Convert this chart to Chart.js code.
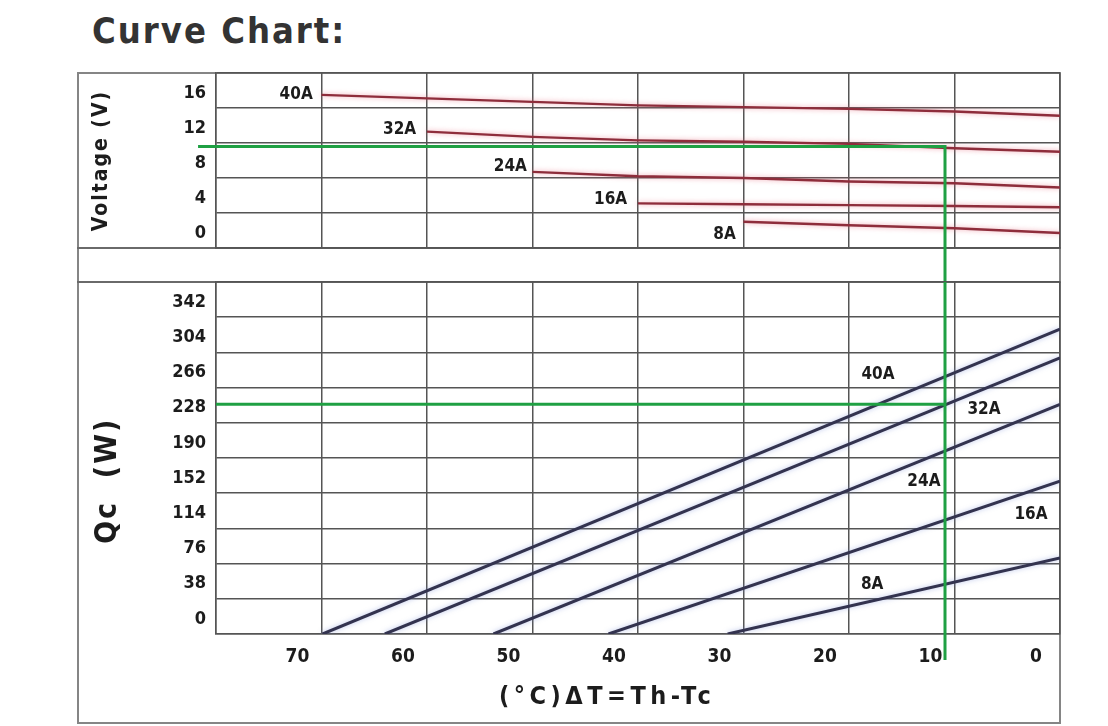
<!DOCTYPE html>
<html>
<head>
<meta charset="utf-8">
<script src="https://cdn.jsdelivr.net/npm/chart.js@4.4.1/dist/chart.umd.min.js"></script>
<style>
  html, body { margin: 0; padding: 0; background: #ffffff; }
  #wrap { position: relative; width: 1108px; height: 726px; overflow: hidden; background: #ffffff; }
  #title { position: absolute; left: 92px; top: 11px; font: bold 36px 'DejaVu Sans Condensed', 'DejaVu Sans', sans-serif;
           letter-spacing: 2px; color: #333333; line-height: 40px; white-space: nowrap; }
  #frame { position: absolute; left: 77px; top: 72px; width: 980px; height: 648px; border: 2px solid #858585; }
  #gap { position: absolute; left: 77px; top: 247px; width: 984px; height: 32px; border-top: 2px solid #6a6a6a; border-bottom: 2px solid #6a6a6a; }
  canvas { position: absolute; left: 0; top: 0; }
</style>
</head>
<body>
<div id="wrap">
  <div id="title">Curve Chart:</div>
  <div id="frame"></div>
  <div id="gap"></div>
  <canvas id="topChart" width="1108" height="726"></canvas>
  <canvas id="botChart" width="1108" height="726"></canvas>
</div>
<script>
// ---------------- data ----------------
const currents = ['40A', '32A', '24A', '16A', '8A'];

// Voltage (V) against ΔT (°C)
const voltDT40 = [70, 60, 50, 40, 30, 20, 10, 0];
const volt40   = [17.5, 17.1, 16.7, 16.3, 16.1, 15.9, 15.6, 15.1];
const voltDT32 = [60, 50, 40, 30, 20, 10, 0];
const volt32   = [13.3, 12.7, 12.3, 12.15, 11.9, 11.4, 11.0];
const voltDT24 = [50, 40, 30, 20, 10, 0];
const volt24   = [8.7, 8.2, 8.0, 7.6, 7.4, 6.9];
const voltDT16 = [40, 30, 20, 10, 0];
const volt16   = [5.1, 5.0, 4.9, 4.8, 4.65];
const voltDT8  = [30, 20, 10, 0];
const volt8    = [3.0, 2.6, 2.25, 1.7];

// Qc (W): each straight line runs from (start ΔT, 0 W) to (ΔT 0, value)
const qcStartDT = [69.9, 64.0, 53.7, 42.8, 31.5];
const qcAtZero  = [329, 298, 248, 165, 82];

// axis ranges / ticks
const dtAxis    = { min: 0, max: 80, step: 10 };
const voltAxis  = { min: 0, max: 20, step: 4 };
const qcAxis    = { min: 0, max: 380, step: 38 };

// green reading guide (operating point)
const guideDT = 10.9, guideV = 11.6, guideQc = 248;
const guideTopStartDT = 81.7, guideTopEndV = -3.9, guideBotEndQc = -28;

// curve label anchors (data units)
const voltLabelDT = [72.4, 62.6, 52.1, 42.6, 31.8];
const voltLabelV  = [17.49, 13.49, 9.26, 5.49, 1.49];
const qcLabelDT   = [17.25, 7.2, 12.9, 2.75, 17.8];
const qcLabelQc   = [280, 242, 165, 129, 53];

// ---------------- styling ----------------
const W = 1108, H = 726;
const FRAME_L = 78, FRAME_R = 1060, PLOT_L = 216;
const TOP_T = 73, TOP_B = 248, BOT_T = 282, BOT_B = 634, FRAME_B = 723;
const GRID = '#555555';
const GREEN = '#1fa043';
const RED = '#8e2d3b';
const NAVY = '#33334f';
const TEXT = '#1c1c1c';
const COND = "'DejaVu Sans Condensed', 'DejaVu Sans', sans-serif";

Chart.defaults.font.family = COND;
Chart.defaults.color = TEXT;

const glow = {
  id: 'glow',
  beforeDatasetDraw(chart, args) {
    const g = chart.data.datasets[args.index].glowColor;
    if (g) { const c = chart.ctx; c.save(); c.shadowColor = g; c.shadowBlur = 5; }
  },
  afterDatasetDraw(chart, args) {
    if (chart.data.datasets[args.index].glowColor) chart.ctx.restore();
  }
};

function spacedTitles(spacing) {
  return {
    id: 'spacedTitles',
    beforeDraw(chart) {
      Object.keys(spacing).forEach(id => {
        const s = chart.scales[id];
        if (!s || s._spacedPatched) return;
        const orig = s.drawTitle;
        s.drawTitle = function () {
          const c = this.ctx; c.save(); c.letterSpacing = spacing[id] + 'px'; orig.call(this); c.restore();
        };
        s._spacedPatched = true;
      });
    }
  };
}

function curveLabels(dts, vals) {
  return {
    id: 'curveLabels',
    afterDatasetsDraw(chart) {
      const { ctx, scales } = chart;
      ctx.save();
      ctx.font = 'bold 17px ' + COND;
      ctx.fillStyle = TEXT;
      ctx.textAlign = 'center';
      ctx.textBaseline = 'middle';
      currents.forEach((t, i) => ctx.fillText(t, scales.x.getPixelForValue(dts[i]), scales.y.getPixelForValue(vals[i])));
      ctx.restore();
    }
  };
}

function xAxis(showTicks, height) {
  return {
    type: 'linear', reverse: true, min: dtAxis.min, max: dtAxis.max,
    ticks: {
      display: showTicks, stepSize: dtAxis.step, labelOffset: -24, padding: 12, autoSkip: false, maxRotation: 0,
      font: { size: 19, weight: 'bold' }, color: TEXT,
      callback: v => (v >= dtAxis.max ? '' : String(Math.round(v)))
    },
    grid: { color: GRID, lineWidth: 1.5, drawTicks: false },
    border: { display: true, color: GRID, width: 1.5 },
    afterFit(s) { s.height = height; }
  };
}

function yAxis(ax, titleText, titleSize, titlePad) {
  return {
    type: 'linear', min: ax.min, max: ax.max,
    ticks: {
      stepSize: ax.step, padding: 10, labelOffset: -15, autoSkip: false,
      font: { size: 18, weight: 'bold' }, color: TEXT,
      callback: v => (v >= ax.max ? '' : String(Math.round(v)))
    },
    grid: { color: GRID, lineWidth: 1.5, drawTicks: false },
    border: { display: true, color: GRID, width: 1.5 },
    title: { display: true, text: titleText, color: TEXT, font: { size: titleSize, weight: 'bold' }, padding: { top: titlePad, bottom: 0 } },
    afterFit(s) { s.width = PLOT_L - FRAME_L; }
  };
}

const common = {
  responsive: false, animation: false, devicePixelRatio: 1,
  elements: { point: { radius: 0, hoverRadius: 0 }, line: { tension: 0 } },
  plugins: { legend: { display: false }, tooltip: { enabled: false } },
  events: []
};

// ---------------- top chart: Voltage ----------------
const voltDTs = [voltDT40, voltDT32, voltDT24, voltDT16, voltDT8];
const voltVals = [volt40, volt32, volt24, volt16, volt8];

const topDatasets = [
  { label: 'guide', data: [{ x: guideTopStartDT, y: guideV }, { x: guideDT, y: guideV }, { x: guideDT, y: guideTopEndV }],
    borderColor: GREEN, borderWidth: 3, clip: false },
  ...voltVals.map((vals, i) => ({
    label: currents[i] + ' voltage',
    data: vals.map((v, j) => ({ x: voltDTs[i][j], y: v })),
    borderColor: RED, borderWidth: 2.5, glowColor: 'rgba(230,100,120,0.6)'
  }))
];

new Chart(document.getElementById('topChart'), {
  type: 'line',
  data: { datasets: topDatasets },
  options: Object.assign({}, common, {
    layout: { padding: { left: FRAME_L, right: W - FRAME_R, top: TOP_T, bottom: H - TOP_B } },
    scales: { x: xAxis(false, 0), y: yAxis(voltAxis, 'Voltage (V)', 21, 11) }
  }),
  plugins: [glow, spacedTitles({ y: 2 }), curveLabels(voltLabelDT, voltLabelV)]
});

// ---------------- bottom chart: Qc ----------------
const botDatasets = [
  { label: 'guide h', data: [{ x: dtAxis.max, y: guideQc }, { x: guideDT, y: guideQc }], borderColor: GREEN, borderWidth: 3, clip: false },
  { label: 'guide v', data: [{ x: guideDT, y: qcAxis.max }, { x: guideDT, y: guideBotEndQc }], borderColor: GREEN, borderWidth: 3, clip: false },
  ...currents.map((c, i) => ({
    label: c + ' Qc',
    data: [{ x: qcStartDT[i], y: 0 }, { x: 0, y: qcAtZero[i] }],
    borderColor: NAVY, borderWidth: 3, glowColor: 'rgba(120,140,215,0.5)'
  }))
];

const botX = xAxis(true, FRAME_B - BOT_B);
botX.title = { display: true, text: '(°C)ΔT=Th-Tc     ', color: TEXT, font: { size: 25, weight: 'bold' }, padding: { top: 0, bottom: 11 } };

new Chart(document.getElementById('botChart'), {
  type: 'line',
  data: { datasets: botDatasets },
  options: Object.assign({}, common, {
    layout: { padding: { left: FRAME_L, right: W - FRAME_R, top: BOT_T, bottom: H - FRAME_B } },
    scales: { x: botX, y: yAxis(qcAxis, 'Qc  (W)    ', 30, 12) }
  }),
  plugins: [glow, spacedTitles({ x: 4.5, y: 2 }), curveLabels(qcLabelDT, qcLabelQc)]
});
</script>
</body>
</html>
